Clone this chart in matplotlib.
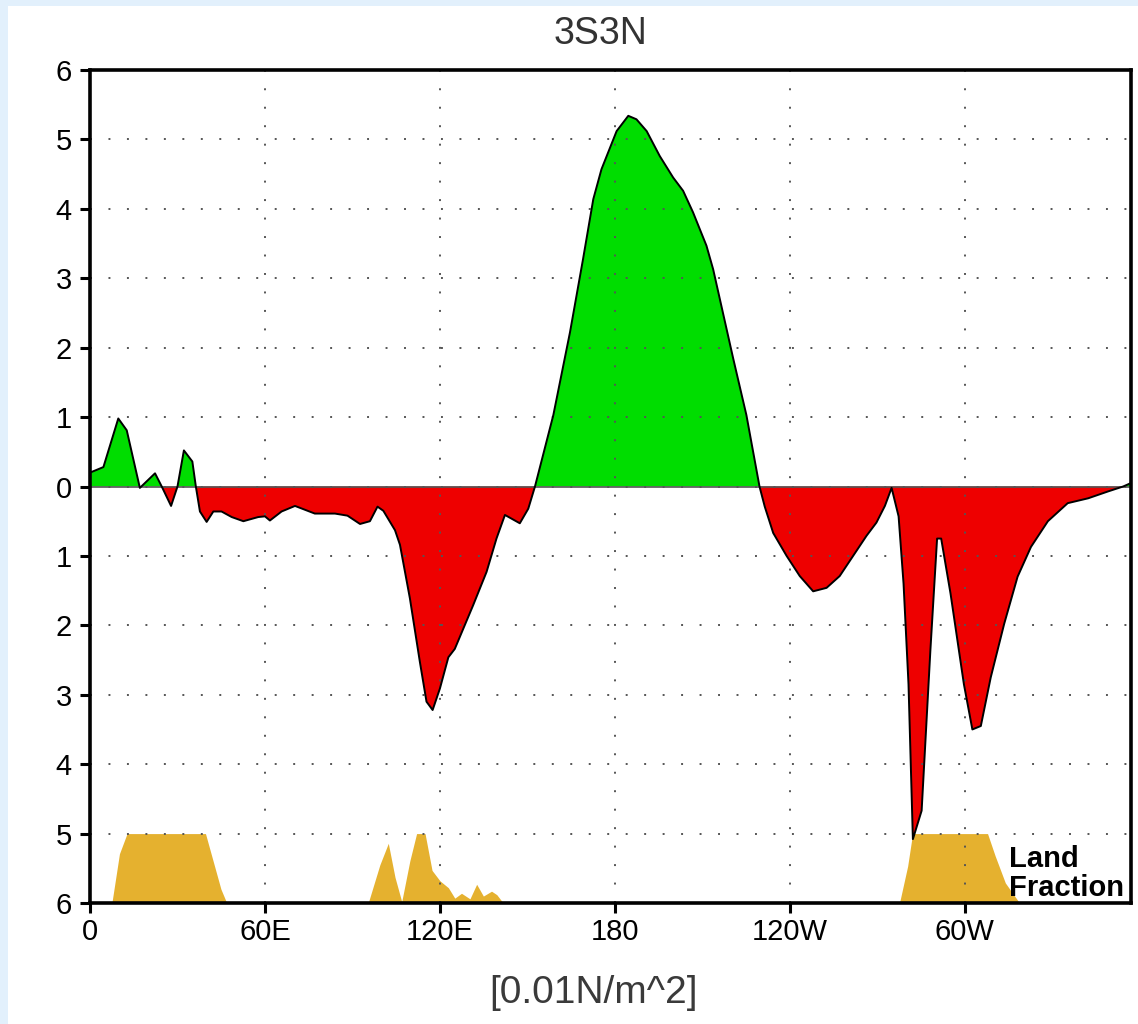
import matplotlib
matplotlib.use("Agg")
import matplotlib.pyplot as plt
from matplotlib.patches import Rectangle
import numpy as np

plt.rcParams['font.family'] = ['Liberation Sans', 'DejaVu Sans']

# ---- data ----
lon = [0, 4.6, 9.7, 12.6, 17.1, 22.3, 24.6, 27.8, 30, 32.2, 35.1, 36.3, 37.7, 40,
       42.3, 45.1, 48.6, 52.6, 57.7, 60, 61.7, 65.7, 70.3, 77.1, 84, 88.3, 92.6,
       96, 98.6, 100.6, 104.6, 106.3, 109.7, 113.1, 115.4, 117.5, 120, 122.9,
       125.1, 131.4, 136, 139.4, 142.3, 147.4, 150.3, 152.6, 158.9, 164.6, 169.1,
       172.6, 175.4, 180.6, 184.6, 187.4, 190.9, 195.4, 200, 203.4, 206.8, 211.4,
       213.7, 216, 220.6, 225.1, 229.6, 231.4, 234.3, 238.9, 243.4, 248, 252.6,
       257.1, 261.7, 266.3, 269.7, 272.6, 274.9, 277.3, 279, 280.7, 282.2, 285.2,
       288.2, 290.5, 291.9, 295.1, 299.7, 302.6, 305.5, 308.9, 313.5, 318.1,
       322.7, 328.5, 335.3, 342.3, 349.2, 354.3, 357]
stress = [0.2, 0.28, 0.98, 0.81, -0.02, 0.19, 0.0, -0.28, 0.0, 0.52, 0.36, 0.0,
          -0.36, -0.51, -0.36, -0.36, -0.44, -0.5, -0.44, -0.43, -0.49, -0.36,
          -0.28, -0.39, -0.39, -0.42, -0.54, -0.5, -0.29, -0.35, -0.63, -0.84,
          -1.61, -2.52, -3.1, -3.22, -2.91, -2.46, -2.34, -1.71, -1.23, -0.75,
          -0.41, -0.53, -0.32, 0.0, 1.03, 2.22, 3.28, 4.14, 4.57, 5.12, 5.34,
          5.29, 5.12, 4.76, 4.45, 4.26, 3.95, 3.47, 3.13, 2.70, 1.84, 1.03, 0.0,
          -0.29, -0.67, -1.0, -1.29, -1.51, -1.46, -1.29, -1.0, -0.71, -0.52,
          -0.28, -0.02, -0.43, -1.4, -2.85, -5.08, -4.67, -2.36, -0.75, -0.75,
          -1.54, -2.85, -3.5, -3.45, -2.75, -1.98, -1.30, -0.87, -0.50, -0.24,
          -0.17, -0.07, 0.0, 0.05]

land_lon = [0, 7.5, 10.1, 12.7, 39.6, 44.9, 46.9, 95.4, 99.4, 102.3, 104.6,
            106.9, 109.7, 112, 114.9, 117.3, 120, 122.9, 125.1, 127.4, 130.3,
            132.6, 134.9, 137.7, 139.5, 141.7, 277.6, 280.4, 282.1, 307.8,
            310.4, 313.9, 318.6, 357]
land_frac = [0, 0, 0.71, 1, 1, 0.2, 0, 0, 0.55, 0.86, 0.37, 0.02, 0.61, 1, 1,
             0.47, 0.32, 0.22, 0.07, 0.14, 0.06, 0.27, 0.10, 0.17, 0.12, 0.0,
             0, 0.53, 1, 1, 0.68, 0.29, 0.01, 0]

xtick_pos = [0, 60, 120, 180, 240, 300]
xtick_lab = ['0', '60E', '120E', '180', '120W', '60W']
ytick_pos = list(range(-6, 7))
ytick_lab = [str(abs(v)) for v in ytick_pos]

title = '3S3N'
units = '[0.01N/m^2]'

# ---- figure ----
W, H = 1138, 1024
fig = plt.figure(figsize=(W / 100, H / 100), dpi=100, facecolor='#e2f0fc')
fig.add_artist(Rectangle((8 / W, 0), 1, 1 - 6 / H, transform=fig.transFigure,
                         facecolor='white', edgecolor='none', zorder=0))

left, right, top, bottom = 90 / W, 1131 / W, 1 - 70 / H, 1 - 903 / H
ax = fig.add_axes([left, bottom, right - left, top - bottom])
ax.set_facecolor('white')

x = np.array(lon)
y = np.array(stress)
ax.fill_between(x, y, 0, where=y >= 0, interpolate=True, color='#00dd00',
                linewidth=0, zorder=1)
ax.fill_between(x, y, 0, where=y <= 0, interpolate=True, color='#ee0000',
                linewidth=0, zorder=1)
ax.plot(x, y, color='black', lw=1.4, zorder=3, solid_joinstyle='round')
ax.axhline(0, color='#555555', lw=1.2, zorder=1.5)

lf = np.array(land_frac)
ax.fill_between(land_lon, -6, -6 + lf, color='#e5b12f', linewidth=0, zorder=1.2)

ax.set_xlim(0, 357)
ax.set_ylim(-6, 6)
ax.set_xticks(xtick_pos)
ax.set_xticklabels(xtick_lab)
ax.set_yticks(ytick_pos)
ax.set_yticklabels(ytick_lab)
ax.set_axisbelow(False)
ax.grid(True, color='#555555', lw=1.4, linestyle=(0, (1, 8.5)), zorder=2.5)

ax.tick_params(axis='both', direction='out', length=7, width=2.2,
               labelsize=21, colors='black')
ax.tick_params(axis='y', pad=6)
ax.tick_params(axis='x', pad=4)
for s in ax.spines.values():
    s.set_linewidth(2.6)
    s.set_color('black')
    s.set_zorder(4)

fig.text(600 / W, 1 - 34 / H, title, ha='center', va='center', fontsize=27,
         color='#333333')
fig.text(593 / W, 1 - 993 / H, units, ha='center', va='center', fontsize=28,
         color='#3a3a3a')
fig.text(1009 / W, 1 - 867 / H, 'Land', ha='left', va='baseline', fontsize=21,
         fontweight='bold', color='black')
fig.text(1009 / W, 1 - 896 / H, 'Fraction', ha='left', va='baseline',
         fontsize=21, fontweight='bold', color='black')

fig.savefig('out.png', dpi=100, facecolor=fig.get_facecolor())
